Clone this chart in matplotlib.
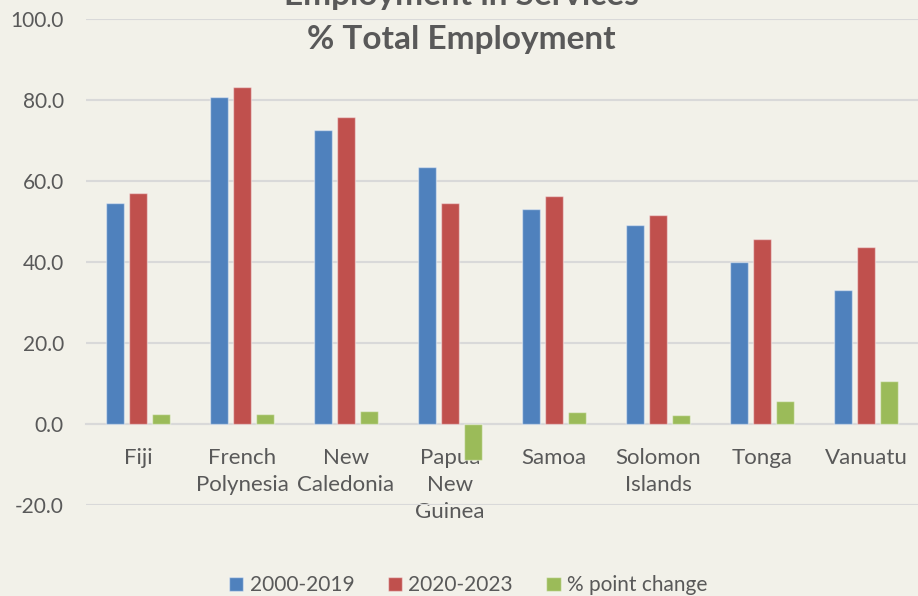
import numpy as np
import matplotlib.pyplot as plt

# --- data ---
countries = ['Fiji', 'French\nPolynesia', 'New\nCaledonia', 'Papua\nNew\nGuinea',
             'Samoa', 'Solomon\nIslands', 'Tonga', 'Vanuatu']
emp_2000_2019 = [54.6, 80.8, 72.6, 63.5, 53.1, 49.1, 40.0, 33.1]
emp_2020_2023 = [57.0, 83.1, 75.8, 54.6, 56.3, 51.5, 45.7, 43.7]
pt_change = [2.5, 2.4, 3.2, -8.9, 3.0, 2.2, 5.7, 10.6]

series_names = ['2000-2019', '2020-2023', '% point change']
colors = ['#4F81BD', '#C0504D', '#9BBB59']

BG = '#F2F1E9'
TXT = '#595959'
GRID = '#D9D9D9'

plt.rcParams['font.family'] = ['Lato', 'DejaVu Sans']

fig = plt.figure(figsize=(9.18, 5.96), dpi=100, facecolor=BG)
ax = fig.add_axes([0.0937, 0.1527, 0.9063, 0.8155], facecolor=BG)

x = np.arange(len(countries))
width = 0.175
step = 0.222
for i, (vals, name, c) in enumerate(zip([emp_2000_2019, emp_2020_2023, pt_change], series_names, colors)):
    ax.bar(x + (i - 1) * step, vals, width, color=c, label=name,
           edgecolor=(1, 1, 1, 0.45), linewidth=1, zorder=3)

ax.set_xlim(-0.5, len(countries) - 0.5)
ax.set_ylim(-20, 100)
ax.set_yticks(np.arange(-20, 101, 20))
ax.set_yticklabels([f'{v:.1f}' for v in np.arange(-20, 101, 20)])
ax.yaxis.grid(True, color=GRID, linewidth=1.5, zorder=0)
ax.set_axisbelow(True)

for s in ['top', 'right', 'left']:
    ax.spines[s].set_visible(False)
ax.spines['bottom'].set_position(('data', 0))
ax.spines['bottom'].set_color(GRID)
ax.spines['bottom'].set_linewidth(1.5)

ax.set_xticks(x)
ax.set_xticklabels(countries, linespacing=1.45)
ax.tick_params(axis='x', length=0, pad=17, labelsize=16, colors=TXT)
ax.tick_params(axis='y', length=0, pad=16, labelsize=15, colors=TXT)

# title (top line runs off the canvas like in the original)
fig.text(0.503, 1.007, 'Employment in Services', ha='center', va='center',
         fontsize=24, fontweight='bold', color=TXT)
fig.text(0.503, 0.933, '% Total Employment', ha='center', va='center',
         fontsize=24, fontweight='bold', color=TXT)

fig.legend(loc='lower center', bbox_to_anchor=(0.51, -0.03), ncol=3, frameon=False,
           fontsize=15, handlelength=0.7, handleheight=0.7, handletextpad=0.3,
           columnspacing=1.6, labelcolor=TXT)

fig.savefig('out.png', dpi=100, facecolor=BG)
